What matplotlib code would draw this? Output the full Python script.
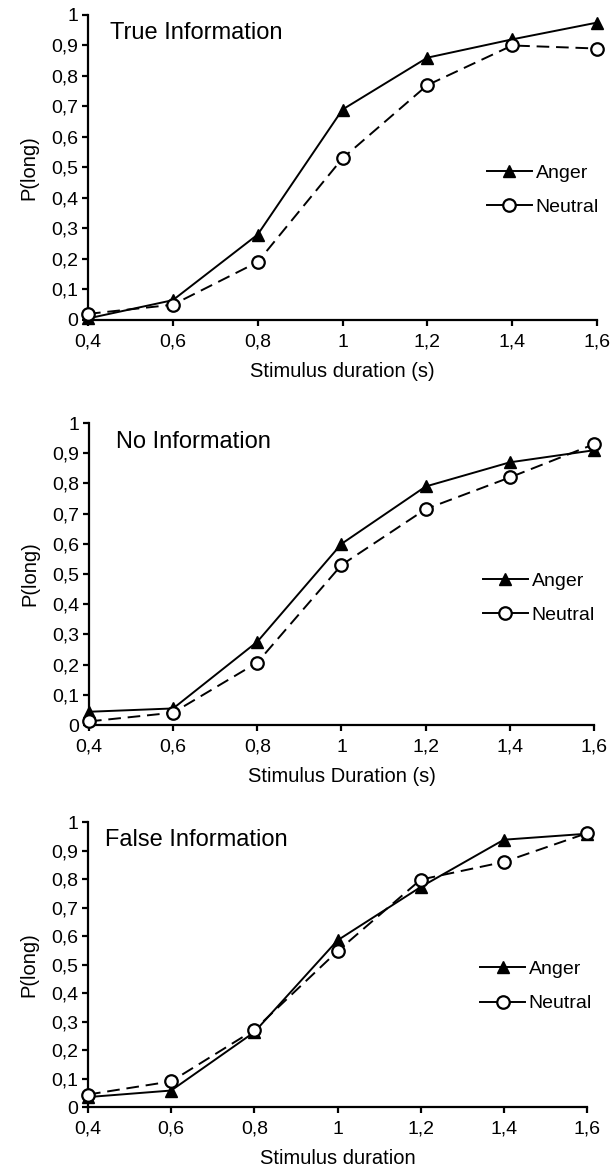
import numpy as np
import matplotlib
matplotlib.use('Agg')
import matplotlib.pyplot as plt

plt.rcParams['font.family'] = ['Liberation Sans', 'DejaVu Sans']

durations = [0.4, 0.6, 0.8, 1.0, 1.2, 1.4, 1.6]
x_ticklabels = ['0,4', '0,6', '0,8', '1', '1,2', '1,4', '1,6']
y_ticks = [0, 0.1, 0.2, 0.3, 0.4, 0.5, 0.6, 0.7, 0.8, 0.9, 1.0]
y_ticklabels = ['0', '0,1', '0,2', '0,3', '0,4', '0,5', '0,6', '0,7', '0,8', '0,9', '1']

titles = ['True Information', 'No Information', 'False Information']
xlabels = ['Stimulus duration (s)', 'Stimulus Duration (s)', 'Stimulus duration']

anger_true = [0.005, 0.065, 0.28, 0.69, 0.86, 0.92, 0.975]
neutral_true = [0.02, 0.05, 0.19, 0.53, 0.77, 0.90, 0.89]
anger_no = [0.044, 0.055, 0.276, 0.60, 0.79, 0.87, 0.91]
neutral_no = [0.012, 0.041, 0.207, 0.53, 0.715, 0.82, 0.93]
anger_false = [0.035, 0.058, 0.263, 0.585, 0.772, 0.938, 0.959]
neutral_false = [0.044, 0.09, 0.271, 0.547, 0.798, 0.86, 0.961]

anger = [anger_true, anger_no, anger_false]
neutral = [neutral_true, neutral_no, neutral_false]

# axes rectangles (fig fraction) and annotation spots (axes fraction)
rects = [[0.1438, 0.7265, 0.8317, 0.2607],
         [0.1454, 0.3803, 0.8252, 0.2581],
         [0.1438, 0.0538, 0.8154, 0.2436]]
title_pos = [(0.043, 0.941), (0.053, 0.937), (0.034, 0.937)]
legend_pos = [(0.784, 0.426), (0.78, 0.42), (0.786, 0.423)]

fig = plt.figure(figsize=(6.12, 11.7), dpi=100)

for i in range(3):
    ax = fig.add_axes(rects[i])
    ax.plot(durations, anger[i], color='black', linewidth=1.4, marker='^',
            markersize=9, markerfacecolor='black', markeredgecolor='black',
            label='Anger', clip_on=False, zorder=3)
    ax.plot(durations, neutral[i], color='black', linewidth=1.4, linestyle=(0, (6.5, 3.5)),
            marker='o', markersize=9, markerfacecolor='white', markeredgecolor='black',
            markeredgewidth=1.6, label='Neutral', clip_on=False, zorder=4)
    ax.set_xlim(0.4, 1.6)
    ax.set_ylim(0, 1)
    ax.set_xticks(durations)
    ax.set_xticklabels(x_ticklabels)
    ax.set_yticks(y_ticks)
    ax.set_yticklabels(y_ticklabels)
    for s in ['top', 'right']:
        ax.spines[s].set_visible(False)
    for s in ['left', 'bottom']:
        ax.spines[s].set_linewidth(1.6)
    ax.tick_params(axis='both', direction='out', length=4, width=1.6,
                   labelsize=14, colors='black')
    ax.tick_params(axis='x', pad=6)
    ax.tick_params(axis='y', pad=3)
    ax.set_xlabel(xlabels[i], fontsize=14.5, labelpad=8)
    ax.set_ylabel('P(long)', fontsize=14.5, labelpad=9)
    ax.text(title_pos[i][0], title_pos[i][1], titles[i], transform=ax.transAxes,
            fontsize=17, ha='left', va='center')
    leg = ax.legend(loc='center left', bbox_to_anchor=legend_pos[i], frameon=False,
                    fontsize=14, handlelength=2.3, handletextpad=0.2,
                    labelspacing=0.85, borderpad=0, borderaxespad=0)
    for h in leg.legend_handles:
        h.set_linestyle('-')

fig.savefig('out.png', dpi=100)
